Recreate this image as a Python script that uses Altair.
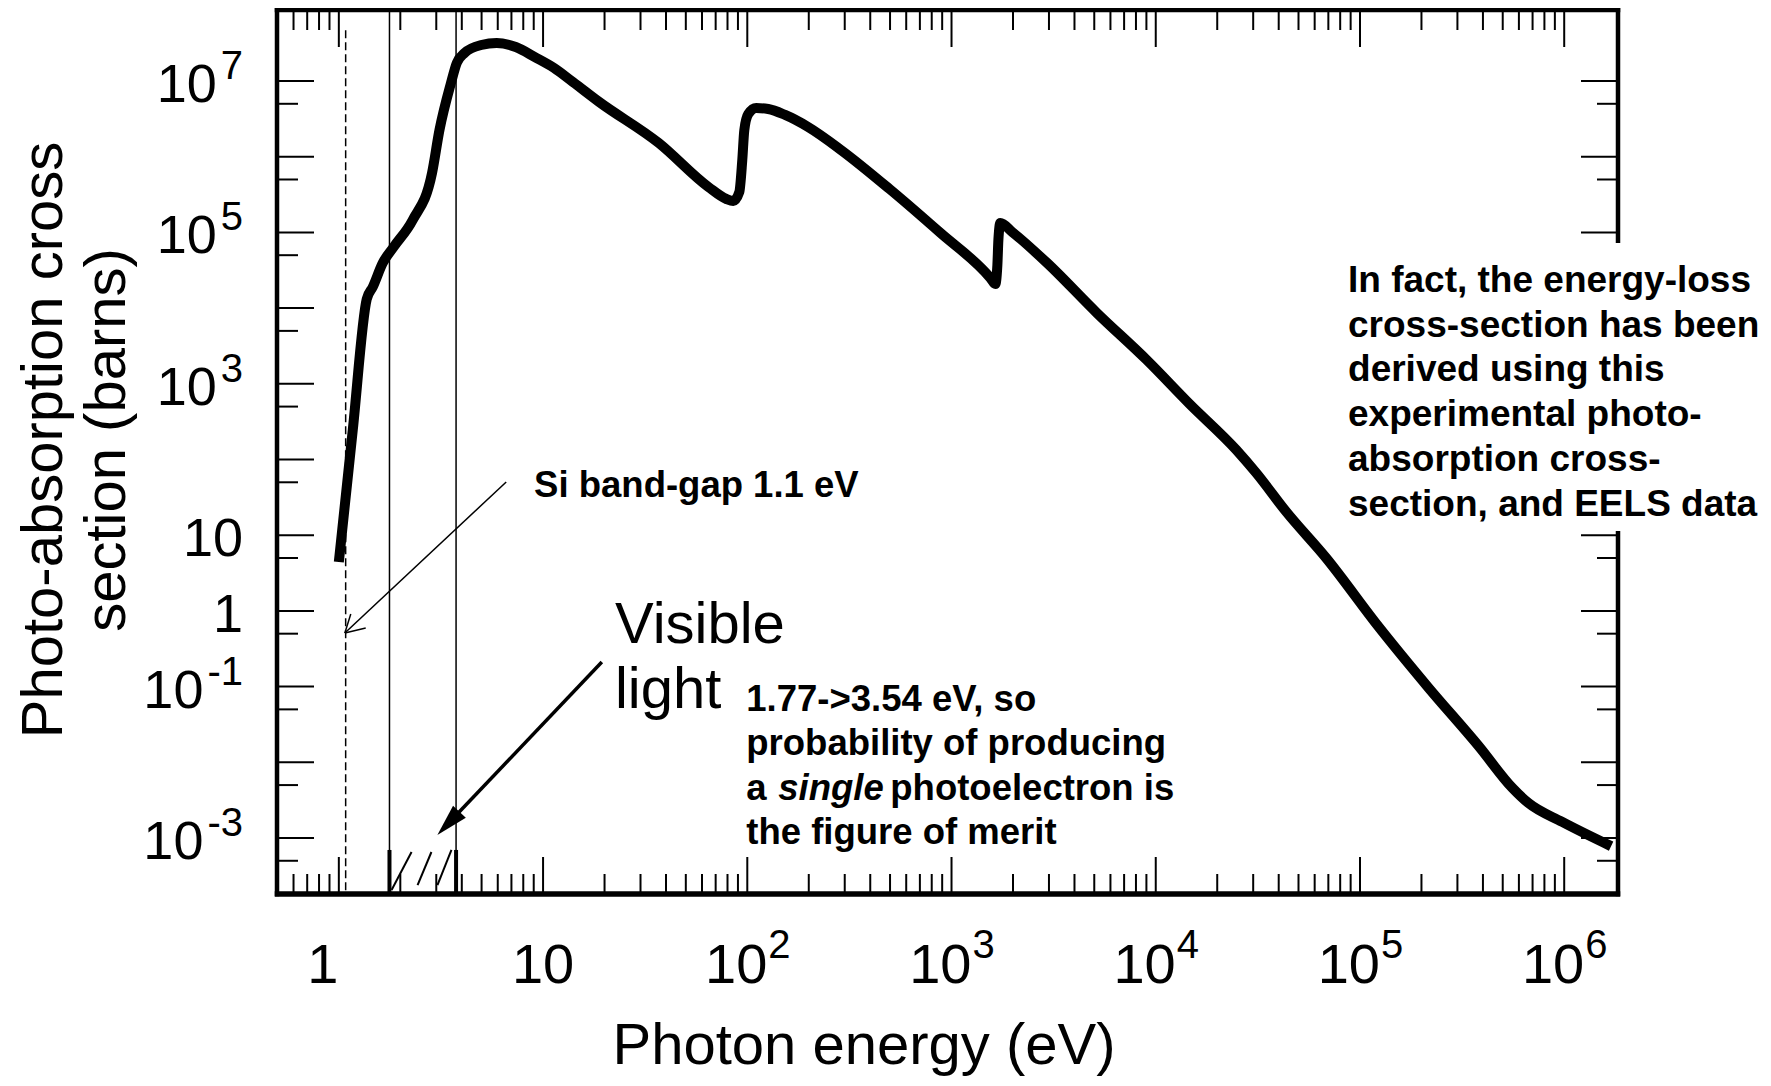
import altair as alt
import pandas as pd

# ---------------- data ----------------
energy_eV = [1.0, 1.17, 1.37, 1.466, 1.64, 1.855, 2.30, 2.86, 3.11, 3.54,
             3.78, 4.12, 4.98, 5.93, 7.35, 9.12, 11.3, 14.0, 18.8, 36.8,
             64.5, 79.0, 85.4, 91.4, 94.5, 96.7, 101.1, 110.6, 126.6, 153.2,
             198.5, 287.4, 504, 884, 1550, 1639, 1677, 1696, 1734, 1984,
             2940, 5155, 9040, 1.465e4, 2.48e4, 3.11e4, 4.36e4, 6.83e4, 1.238e5, 2.17e5,
             3.81e5, 5.58e5, 6.67e5, 9.78e5, 1.696e6]
sigma_barns = [4.43, 245, 1.32e4, 1.90e4, 3.94e4, 6.41e4, 1.46e5, 6.09e5, 2.25e6, 9.4e6,
               1.73e7, 2.34e7, 2.99e7, 3.18e7, 2.81e7, 2.07e7, 1.49e7, 9.7e6, 5.3e6, 1.52e6,
               3.98e5, 2.76e5, 2.6e5, 3.42e5, 9.0e5, 2.25e6, 3.66e6, 4.4e6, 4.27e6, 3.56e6,
               2.47e6, 1.23e6, 3.63e5, 9.8e4, 2.5e4, 2.08e4, 3.7e4, 7.9e4, 1.33e5, 1.01e5,
               3.94e4, 8.6e3, 2.06e3, 541, 134, 66, 20.3, 5.0, 0.61, 0.096,
               0.0164, 4.57e-3, 2.9e-3, 1.63e-3, 7.8e-4]

x_domain = [0.498, 1.834e6]
y_domain = [1.82e-4, 8.67e7]

x_major_ticks = [1, 10, 100, 1e3, 1e4, 1e5, 1e6]
x_minor_mult = [2, 3, 4, 5, 6, 7, 8, 9]
y_major_ticks = [1e-3, 1e-2, 1e-1, 1, 10, 100, 1e3, 1e4, 1e5, 1e6, 1e7]
y_minor_ticks = [5e-4, 5e-3, 5e-2, 0.5, 5, 50, 500, 5e3, 5e4, 5e5, 5e6]

x_label_values = [1, 10, 100, 1e3, 1e4, 1e5, 1e6]
x_label_base = ["1", "10", "10", "10", "10", "10", "10"]
x_label_exp = ["", "", "2", "3", "4", "5", "6"]

y_label_values = [1e7, 1e5, 1e3, 10, 1, 0.1, 1e-3]
y_label_base = ["10", "10", "10", "10", "1", "10", "10"]
y_label_exp = ["7", "5", "3", "", "", "-1", "-3"]

x_title = "Photon energy (eV)"
y_title = ["Photo-absorption cross", "section (barns)"]

# reference lines (eV)
bandgap_eV = 1.08
bandgap_top = 4.7e7
visible_edges_eV = [1.77, 3.75]
visible_bar_top = 6.95e-4
hatch_E1 = [1.813, 2.43, 3.04]
hatch_s1 = [2.06e-4, 2.39e-4, 2.39e-4]
hatch_E2 = [2.27, 2.84, 3.56]
hatch_s2 = [6.53e-4, 6.53e-4, 6.95e-4]

# arrows (data coordinates)
si_arrow_E = [6.60, 1.07, 1.07]
si_arrow_s = [50.5, 0.51, 0.51]
si_arrow_E2 = [1.07, 1.354, 1.144]
si_arrow_s2 = [0.51, 0.594, 0.91]
vis_arrow_E = [19.4]
vis_arrow_s = [0.211]
vis_arrow_E2 = [3.68]
vis_arrow_s2 = [1.89e-3]
vis_head_E = [3.44]
vis_head_s = [1.56e-3]

# annotation texts and anchors
si_text = "Si band-gap 1.1 eV"
si_anchor = (9.04, 32.0)
right_lines = ["In fact, the energy-loss", "cross-section has been", "derived using this",
               "experimental photo-", "absorption cross-", "section, and EELS data"]
right_anchor = (8.74e4, 1.63e4)
right_box = (8.2e4, 8.8e6, 7.25e4, 11.4)   # E-left, E-right, sigma-top, sigma-bottom
vis_lines = ["Visible", "light"]
vis_anchor = (22.5, 0.377)
fom_lines_top = ["1.77->3.54 eV, so", "probability of producing"]
fom_line3 = ["a", "single", "photoelectron is"]
fom_line4 = "the figure of merit"
fom_anchor = (98.9, 0.0476)

# ---------------- chart ----------------
W, H = 1341, 884
FONT = "Liberation Sans"
xs = alt.Scale(type="log", domain=x_domain, nice=False)
ys = alt.Scale(type="log", domain=y_domain, nice=False)
one = pd.DataFrame({"k": [0]})


def X(field="E"):
    return alt.X(f"{field}:Q", scale=xs, axis=None)


def Y(field="s"):
    return alt.Y(f"{field}:Q", scale=ys, axis=None)


curve_df = pd.DataFrame({"E": energy_eV, "sigma": sigma_barns, "i": range(len(energy_eV))})
curve = alt.Chart(curve_df).mark_line(
    color="black", strokeWidth=10, interpolate="monotone", strokeCap="butt", strokeJoin="round"
).encode(x=X("E"), y=Y("sigma"), order="i:Q")

# frame
BW = 4.5
frame = [
    alt.Chart(one).mark_rule(color="black", strokeWidth=BW).encode(
        x=alt.value(0), y=alt.value(-BW / 2), y2=alt.value(H + BW / 2)),
    alt.Chart(one).mark_rule(color="black", strokeWidth=BW).encode(
        x=alt.value(W), y=alt.value(-BW / 2), y2=alt.value(H + BW / 2)),
    alt.Chart(one).mark_rule(color="black", strokeWidth=BW).encode(
        y=alt.value(0), x=alt.value(-BW / 2), x2=alt.value(W + BW / 2)),
    alt.Chart(one).mark_rule(color="black", strokeWidth=BW + 1).encode(
        y=alt.value(H), x=alt.value(-BW / 2), x2=alt.value(W + BW / 2)),
]

# ticks
x_minor = [m * k for m in [0.1] + x_major_ticks for k in x_minor_mult
           if x_domain[0] < m * k < x_domain[1]]
xmaj = pd.DataFrame({"E": x_major_ticks})
xmin = pd.DataFrame({"E": x_minor})
ymaj = pd.DataFrame({"s": y_major_ticks})
ymin = pd.DataFrame({"s": y_minor_ticks})

ticks = []
for df, ln in [(xmaj, 37), (xmin, 20)]:
    ticks.append(alt.Chart(df).mark_rule(color="black", strokeWidth=2).encode(
        x=X(), y=alt.value(H), y2=alt.value(H - ln)))
    ticks.append(alt.Chart(df).mark_rule(color="black", strokeWidth=2).encode(
        x=X(), y=alt.value(0), y2=alt.value(ln)))
for df, ln in [(ymaj, 37), (ymin, 21)]:
    ticks.append(alt.Chart(df).mark_rule(color="black", strokeWidth=2).encode(
        y=Y(), x=alt.value(0), x2=alt.value(ln)))
    ticks.append(alt.Chart(df).mark_rule(color="black", strokeWidth=2).encode(
        y=Y(), x=alt.value(W - ln), x2=alt.value(W)))

# tick labels - x
XB, XE = 56, 40
xl = pd.DataFrame({"E": x_label_values, "base": x_label_base, "exp": x_label_exp})
xl_one = xl[xl.base == "1"]
xl_plain = xl[(xl.base != "1") & (xl.exp == "")]
xl_pow = xl[xl.exp != ""]
x_labels = [
    alt.Chart(xl_one).mark_text(font=FONT, fontSize=XB, align="center", baseline="alphabetic",
                                dx=-16, color="black").encode(x=X(), y=alt.value(H + 89), text="base:N"),
    alt.Chart(xl_plain).mark_text(font=FONT, fontSize=XB, align="center", baseline="alphabetic",
                                  color="black").encode(x=X(), y=alt.value(H + 89), text="base:N"),
    alt.Chart(xl_pow).mark_text(font=FONT, fontSize=XB, align="right", baseline="alphabetic",
                                dx=20, color="black").encode(x=X(), y=alt.value(H + 89), text="base:N"),
    alt.Chart(xl_pow).mark_text(font=FONT, fontSize=XE, align="left", baseline="alphabetic",
                                dx=21, color="black").encode(x=X(), y=alt.value(H + 64), text="exp:N"),
]

# tick labels - y
YB, YE = 54, 40


def exp_width(e):
    return sum(0.333 if c == "-" else 0.556 for c in e) * YE


yl = pd.DataFrame({"s": y_label_values, "base": y_label_base, "exp": y_label_exp})
yl["bx"] = [-34 - (exp_width(e) + 4 if e else 0) for e in yl.exp]
y_labels = [
    alt.Chart(yl).mark_text(font=FONT, fontSize=YB, align="right", baseline="alphabetic",
                            dy=21, color="black").encode(
        x=alt.X("bx:Q", scale=None, axis=None), y=Y(), text="base:N"),
    alt.Chart(yl[yl.exp != ""]).mark_text(font=FONT, fontSize=YE, align="right", baseline="alphabetic",
                                          dy=-2, color="black").encode(
        x=alt.value(-34), y=Y(), text="exp:N"),
]

# axis titles
titles = [
    alt.Chart(pd.DataFrame({"t": [x_title]})).mark_text(
        font=FONT, fontSize=58, align="center", baseline="alphabetic", color="black"
    ).encode(x=alt.value(587), y=alt.value(H + 170), text="t:N"),
    alt.Chart(pd.DataFrame({"t": ["\n".join(y_title)]})).mark_text(
        font=FONT, fontSize=58, align="center", baseline="alphabetic", angle=270,
        lineBreak="\n", lineHeight=63, color="black"
    ).encode(x=alt.value(-215), y=alt.value(430), text="t:N"),
]

# reference lines
vis_lines_chart = alt.Chart(pd.DataFrame({"E": visible_edges_eV})).mark_rule(
    color="black", strokeWidth=1.5).encode(x=X(), y=alt.value(0), y2=alt.value(H))
gap_line = alt.Chart(pd.DataFrame({"E": [bandgap_eV], "top": [bandgap_top], "bot": [y_domain[0]]})).mark_rule(
    color="black", strokeWidth=1.5, strokeDash=[8, 4]).encode(x=X(), y=Y("top"), y2="bot:Q")
vis_bars = alt.Chart(pd.DataFrame({"E": visible_edges_eV, "top": [visible_bar_top] * 2,
                                   "bot": [y_domain[0]] * 2})).mark_rule(
    color="black", strokeWidth=4).encode(x=X(), y=Y("top"), y2="bot:Q")
hatch = alt.Chart(pd.DataFrame({"E": hatch_E1, "s": hatch_s1, "E2": hatch_E2, "s2": hatch_s2})).mark_rule(
    color="black", strokeWidth=2).encode(x=X(), y=Y(), x2="E2:Q", y2="s2:Q")

# arrows
si_arrow = alt.Chart(pd.DataFrame({"E": si_arrow_E, "s": si_arrow_s, "E2": si_arrow_E2, "s2": si_arrow_s2})).mark_rule(
    color="black", strokeWidth=1.5).encode(x=X(), y=Y(), x2="E2:Q", y2="s2:Q")
vis_arrow = alt.Chart(pd.DataFrame({"E": vis_arrow_E, "s": vis_arrow_s, "E2": vis_arrow_E2, "s2": vis_arrow_s2})).mark_rule(
    color="black", strokeWidth=3.5).encode(x=X(), y=Y(), x2="E2:Q", y2="s2:Q")
vis_head = alt.Chart(pd.DataFrame({"E": vis_head_E, "s": vis_head_s})).mark_point(
    shape="M0,-1L0.55,1L-0.55,1Z", size=1024, filled=True, color="black", opacity=1,
    angle=223.6, strokeWidth=0).encode(x=X(), y=Y())

# white box behind the right-hand note (interrupts the frame as in the original)
box = alt.Chart(pd.DataFrame({"E": [right_box[0]], "E2": [right_box[1]],
                              "s": [right_box[2]], "s2": [right_box[3]]})).mark_rect(
    color="white", opacity=1).encode(x=X(), x2="E2:Q", y=Y(), y2="s2:Q")

# annotations


def note(lines, anchor, size, weight="bold", style="normal", lh=44.6, dx=0, dy=0):
    df = pd.DataFrame({"E": [anchor[0]], "s": [anchor[1]], "t": ["\n".join(lines)]})
    return alt.Chart(df).mark_text(
        font=FONT, fontSize=size, fontWeight=weight, fontStyle=style, align="left",
        baseline="alphabetic", lineBreak="\n", lineHeight=lh, dx=dx, dy=dy, color="black"
    ).encode(x=X(), y=Y(), text="t:N")


notes = [
    note([si_text], si_anchor, 36.5),
    note(right_lines, right_anchor, 37, lh=44.7),
    note(vis_lines, vis_anchor, 58, weight="normal", lh=65),
    note(fom_lines_top, fom_anchor, 36.5, lh=44.5),
    note([fom_line3[0]], fom_anchor, 36.5, dy=89),
    note([fom_line3[1]], fom_anchor, 36.5, style="italic", dx=32, dy=89),
    note([fom_line3[2]], fom_anchor, 36.5, dx=144, dy=89),
    note([fom_line4], fom_anchor, 36.5, dy=133.5),
]

chart = alt.layer(
    *frame, *ticks, vis_lines_chart, gap_line, vis_bars, hatch, curve,
    si_arrow, vis_arrow, vis_head, box, *x_labels, *y_labels, *titles, *notes
).properties(
    width=W, height=H, autosize="none",
    padding={"left": 269, "top": 2, "right": 145, "bottom": 184},
    background="white",
).configure_view(strokeWidth=0)

chart.save("out.html", embed_options={"renderer": "svg", "actions": False})
